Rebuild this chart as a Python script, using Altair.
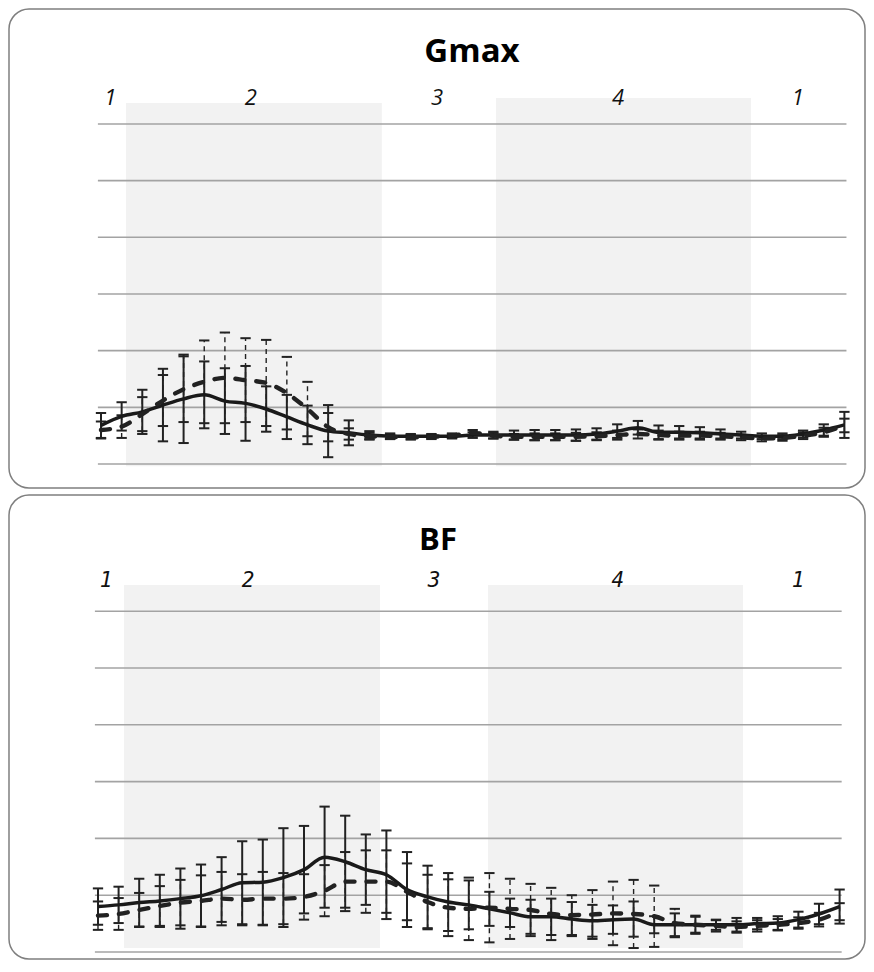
import altair as alt
import pandas as pd

idx = list(range(37))

# ---- Gmax panel ----
gmax_solid = [0.68, 0.84, 0.92, 1.04, 1.15, 1.22, 1.11, 1.07, 0.97, 0.83, 0.69, 0.58, 0.55, 0.51,
              0.49, 0.49, 0.49, 0.49, 0.51, 0.51, 0.51, 0.51, 0.51, 0.51, 0.53, 0.58, 0.64, 0.56,
              0.56, 0.55, 0.53, 0.51, 0.49, 0.49, 0.53, 0.60, 0.69]
gmax_solid_err = [0.22, 0.25, 0.39, 0.64, 0.78, 0.59, 0.58, 0.66, 0.40, 0.39, 0.34, 0.46, 0.22, 0.07,
                  0.05, 0.04, 0.04, 0.04, 0.05, 0.06, 0.08, 0.09, 0.09, 0.10, 0.10, 0.12, 0.12, 0.12,
                  0.11, 0.10, 0.08, 0.06, 0.05, 0.05, 0.06, 0.10, 0.23]
gmax_dashed = [0.60, 0.66, 0.88, 1.12, 1.32, 1.45, 1.52, 1.48, 1.43, 1.25, 0.97, 0.65, 0.53, 0.49,
               0.48, 0.47, 0.48, 0.50, 0.55, 0.50, 0.48, 0.48, 0.48, 0.48, 0.49, 0.51, 0.53, 0.51,
               0.50, 0.50, 0.49, 0.47, 0.45, 0.46, 0.50, 0.56, 0.68]
gmax_dashed_err = [0.15, 0.20, 0.30, 0.45, 0.58, 0.73, 0.80, 0.74, 0.76, 0.64, 0.48, 0.25, 0.10, 0.06,
                   0.04, 0.04, 0.04, 0.04, 0.05, 0.05, 0.05, 0.06, 0.06, 0.07, 0.07, 0.08, 0.08, 0.08,
                   0.07, 0.07, 0.06, 0.05, 0.05, 0.05, 0.06, 0.08, 0.12]

# ---- BF panel ----
bf_solid = [0.80, 0.83, 0.87, 0.90, 0.94, 0.99, 1.10, 1.22, 1.23, 1.31, 1.45, 1.67, 1.59, 1.45,
            1.36, 1.10, 0.97, 0.88, 0.83, 0.76, 0.69, 0.62, 0.62, 0.58, 0.55, 0.57, 0.58, 0.48,
            0.48, 0.48, 0.48, 0.48, 0.50, 0.51, 0.57, 0.67, 0.80]
bf_solid_err = [0.32, 0.32, 0.42, 0.46, 0.53, 0.55, 0.57, 0.73, 0.75, 0.87, 0.77, 0.89, 0.81, 0.62,
                0.78, 0.66, 0.55, 0.51, 0.43, 0.30, 0.25, 0.30, 0.32, 0.30, 0.28, 0.25, 0.31, 0.15,
                0.20, 0.14, 0.09, 0.12, 0.10, 0.12, 0.14, 0.18, 0.30]
bf_dashed = [0.64, 0.67, 0.74, 0.81, 0.87, 0.90, 0.94, 0.92, 0.94, 0.94, 0.97, 1.08, 1.24, 1.24,
             1.24, 1.06, 0.88, 0.78, 0.76, 0.78, 0.76, 0.74, 0.67, 0.65, 0.66, 0.68, 0.67, 0.63,
             0.51, 0.48, 0.46, 0.44, 0.46, 0.48, 0.51, 0.57, 0.71]
bf_dashed_err = [0.25, 0.28, 0.30, 0.35, 0.40, 0.45, 0.47, 0.45, 0.47, 0.45, 0.40, 0.45, 0.52, 0.55,
                 0.55, 0.50, 0.48, 0.50, 0.55, 0.61, 0.53, 0.46, 0.46, 0.35, 0.43, 0.56, 0.60, 0.54,
                 0.25, 0.16, 0.10, 0.10, 0.10, 0.10, 0.10, 0.12, 0.15]

phase_labels = ["1", "2", "3", "4", "1"]
gmax_label_pos = [0.45, 7.26, 16.27, 25.04, 33.75]
bf_label_pos = [0.39, 7.28, 16.31, 25.24, 33.98]
grid_values = [0, 1, 2, 3, 4, 5, 6]

gmax_shade = {"x0": [1.21, 19.13], "x1": [13.6, 31.48], "y0": [-0.04, -0.04], "y1": [6.37, 6.46]}
bf_shade = {"x0": [1.26, 18.93], "x1": [13.69, 31.31], "y0": [0.07, 0.07], "y1": [6.46, 6.46]}

INK = "#1a1a1a"


def panel(title, title_xy, title_size, solid, solid_err, dashed, dashed_err, xdom, ydom, W, H,
          label_pos, label_y, label_font, label_style, label_size, shade):
    xs = alt.Scale(domain=xdom, nice=False, zero=False)
    ys = alt.Scale(domain=ydom, nice=False, zero=False)

    rows = []
    for s, m, e in (("solid", solid, solid_err), ("dashed", dashed, dashed_err)):
        for i, mv, ev in zip(idx, m, e):
            rows.append({"i": i, "series": s, "m": mv, "e": ev})
    df = pd.DataFrame(rows)

    base = alt.Chart(df).transform_calculate(
        lo="datum.m - datum.e", hi="datum.m + datum.e",
        xl="datum.i - 0.25", xr="datum.i + 0.25")

    layers = []
    shade_df = pd.DataFrame(shade)
    layers.append(alt.Chart(shade_df).mark_rect(color="#f2f2f2").encode(
        x=alt.X("x0:Q", scale=xs, axis=None), x2="x1:Q",
        y=alt.Y("y0:Q", scale=ys, axis=None), y2="y1:Q"))

    grid_df = pd.DataFrame({"v": grid_values, "a": [-0.15] * 7, "b": [36.1] * 7})
    layers.append(alt.Chart(grid_df).mark_rule(color="#a3a3a3", strokeWidth=1.6).encode(
        x=alt.X("a:Q", scale=xs, axis=None), x2="b:Q",
        y=alt.Y("v:Q", scale=ys, axis=None)))

    for s, dash, sw in (("dashed", [5, 4], 1.4), ("solid", None, 2.0)):
        kw = {"color": "#222222", "strokeWidth": sw}
        if dash:
            kw["strokeDash"] = dash
        b = base.transform_filter(alt.datum.series == s)
        layers.append(b.mark_rule(**kw).encode(
            x=alt.X("i:Q", scale=xs, axis=None),
            y=alt.Y("lo:Q", scale=ys, axis=None), y2="hi:Q"))
        for end in ("lo", "hi"):
            layers.append(b.mark_rule(color="#222222", strokeWidth=2.0).encode(
                x=alt.X("xl:Q", scale=xs, axis=None), x2="xr:Q",
                y=alt.Y(f"{end}:Q", scale=ys, axis=None)))

    layers.append(base.transform_filter(alt.datum.series == "solid").mark_line(
        color=INK, strokeWidth=3.5, interpolate="monotone").encode(
        x=alt.X("i:Q", scale=xs, axis=None), y=alt.Y("m:Q", scale=ys, axis=None)))
    layers.append(base.transform_filter(alt.datum.series == "dashed").mark_line(
        color="#222222", strokeWidth=4.4, strokeDash=[9, 12], strokeCap="round",
        interpolate="monotone").encode(
        x=alt.X("i:Q", scale=xs, axis=None), y=alt.Y("m:Q", scale=ys, axis=None)))

    lab_df = pd.DataFrame({"p": label_pos, "t": phase_labels, "ly": [label_y] * 5})
    layers.append(alt.Chart(lab_df).mark_text(
        font=label_font, fontStyle=label_style, fontSize=label_size, color="#111111",
        baseline="middle", align="center").encode(
        x=alt.X("p:Q", scale=xs, axis=None), y=alt.Y("ly:Q", scale=ys, axis=None), text="t:N"))

    t_df = pd.DataFrame({"t": [title]})
    layers.append(alt.Chart(t_df).mark_text(
        font="Open Sans", fontWeight="bold", fontSize=title_size, color="#000000",
        baseline="middle", align="center").encode(
        x=alt.value(title_xy[0]), y=alt.value(title_xy[1]), text="t:N"))

    return alt.layer(*layers).properties(width=W, height=H)


# panel 1: view 856x479, pixel x = 92 + 20.65 i, pixel y = 455 - 56.67 v
p1 = panel("Gmax", (463, 43), 33, gmax_solid, gmax_solid_err, gmax_dashed, gmax_dashed_err,
           [-4.455, 36.998], [-0.4235, 8.029], 856, 479,
           gmax_label_pos, 6.46, "Open Sans", "italic", 22, gmax_shade)
# panel 2: view 856x464, pixel x = 89 + 20.6 i, pixel y = 457 - 56.8 v
p2 = panel("BF", (429, 46), 31, bf_solid, bf_solid_err, bf_dashed, bf_dashed_err,
           [-4.320, 37.233], [-0.123, 8.046], 856, 464,
           bf_label_pos, 6.53, "DejaVu Sans Mono", "italic", 21, bf_shade)

chart = alt.vconcat(p1, p2, spacing=5).resolve_scale(x="independent", y="independent").properties(
    padding=0, background="white"
).configure_view(stroke="#7f7f7f", strokeWidth=1.5, cornerRadius=20)

chart.save("out.html", embed_options={"renderer": "svg", "actions": False})
